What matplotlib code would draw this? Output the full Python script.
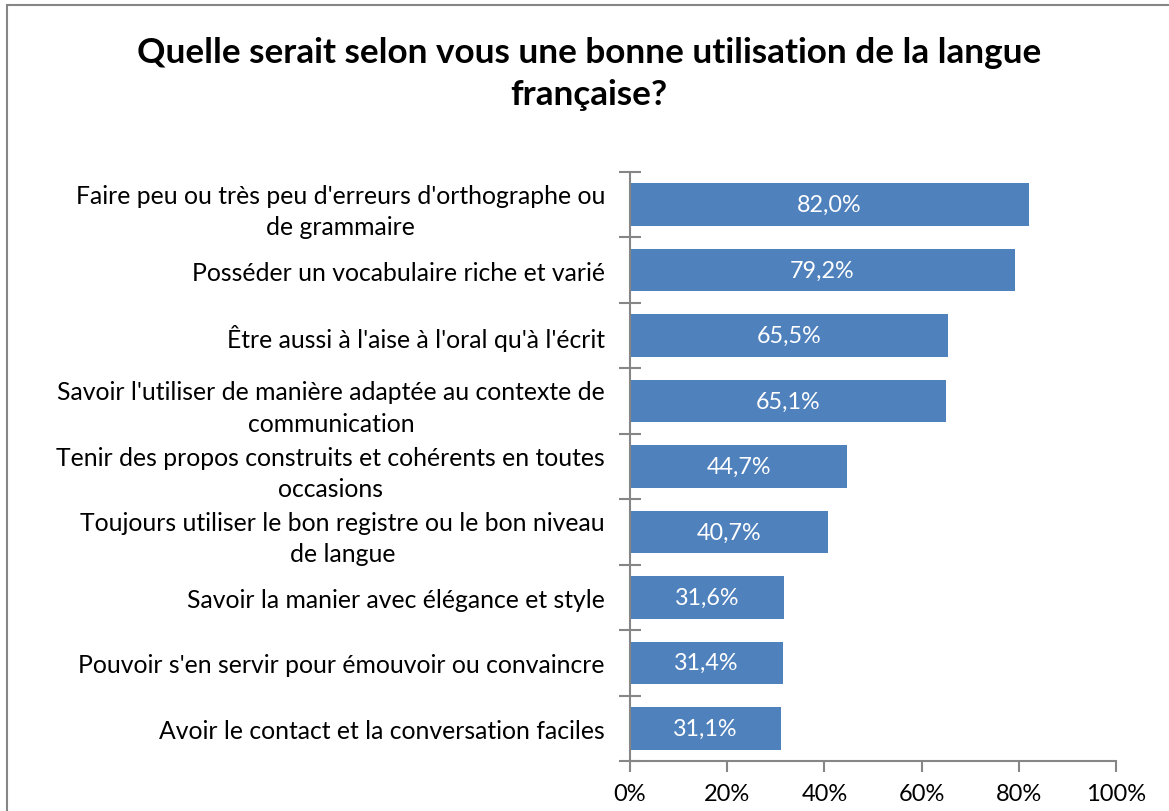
import matplotlib
matplotlib.use("Agg")
import matplotlib.pyplot as plt
from matplotlib.patches import Rectangle
import numpy as np

plt.rcParams['font.family'] = ['Lato', 'DejaVu Sans']

categories = [
    "Faire peu ou très peu d'erreurs d'orthographe ou\nde grammaire",
    "Posséder un vocabulaire riche et varié",
    "Être aussi à l'aise à l'oral qu'à l'écrit",
    "Savoir l'utiliser de manière adaptée au contexte de\ncommunication",
    "Tenir des propos construits et cohérents en toutes\noccasions",
    "Toujours utiliser le bon registre ou le bon niveau\nde langue",
    "Savoir la manier avec élégance et style",
    "Pouvoir s'en servir pour émouvoir ou convaincre",
    "Avoir le contact et la conversation faciles",
]
values = [82.0, 79.2, 65.5, 65.1, 44.7, 40.7, 31.6, 31.4, 31.1]
xticks = [0, 20, 40, 60, 80, 100]
title = "Quelle serait selon vous une bonne utilisation de la langue\nfrançaise?"

W, H = 1169, 812
fig = plt.figure(figsize=(W / 100, H / 100), dpi=100)
fig.patch.set_facecolor('white')

# chart border (extends beyond right/bottom edges)
fig.patches.append(Rectangle((7 / W, -0.05), 1.1, 1 - 6 / H + 0.05, transform=fig.transFigure,
                             fill=False, edgecolor='#868686', linewidth=1.5))

ax = fig.add_axes([630 / W, 1 - 762 / H, (1116 - 630) / W, (762 - 173) / H])
n = len(categories)
y = np.arange(n)
ax.barh(y, values, height=0.65, color='#4F81BD', zorder=2)
ax.set_ylim(n - 0.5, -0.5)
ax.set_xlim(0, 100)

for yi, v in zip(y, values):
    ax.text(v / 2, yi, f"{v:.1f}%".replace('.', ','), ha='center', va='center',
            color='white', fontsize=16.8)

ax.set_xticks(xticks)
ax.set_xticklabels([f"{t}%" for t in xticks], fontsize=17)
ax.set_yticks(np.arange(n + 1) - 0.5)
ax.set_yticklabels([])
ax.set_yticks(y, minor=True)
ax.set_yticklabels(categories, minor=True, fontsize=17.8, multialignment='center',
                   linespacing=1.45)
ax.tick_params(axis='y', which='minor', length=0, pad=18)
ax.tick_params(axis='y', which='major', direction='inout', length=16, color='#868686', width=1.5)
ax.tick_params(axis='x', direction='out', length=8, color='#868686', width=1.5, pad=8)

for s in ['top', 'right']:
    ax.spines[s].set_visible(False)
for s in ['left', 'bottom']:
    ax.spines[s].set_color('#868686')
    ax.spines[s].set_linewidth(1.5)

fig.text(589 / W, 1 - 74 / H, title, ha='center', va='center', fontsize=25.3,
         fontweight='bold', linespacing=1.4)

fig.savefig('out.png', dpi=100)
